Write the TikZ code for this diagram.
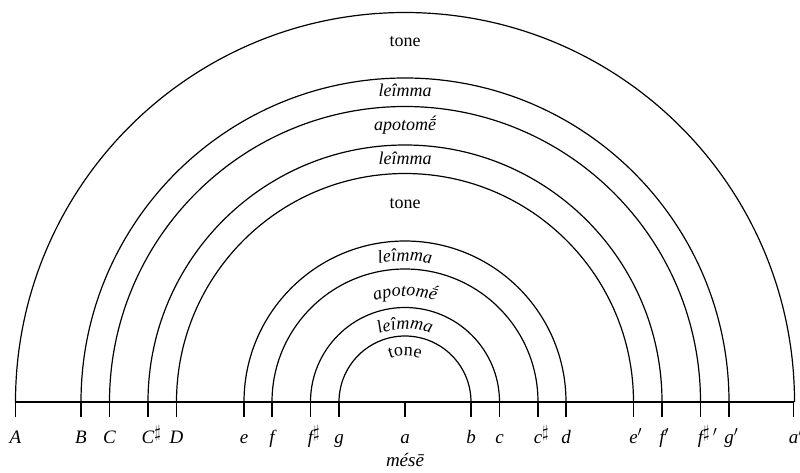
\documentclass[tikz,border=0pt]{standalone}
\usepackage{fontspec}
\setmainfont{Liberation Serif}
\usetikzlibrary{decorations.text}
\newcommand{\shp}{\rlap{\raisebox{0.3em}{\fontsize{17}{17}\selectfont$\sharp$}}}
\newcommand{\shpp}{\rlap{\raisebox{0.3em}{\fontsize{17}{17}\selectfont$\sharp$}\,$'$}}
\begin{document}
\begin{tikzpicture}[x=1pt,y=1pt,
  arcline/.style={line width=1.2pt},
  baseln/.style={line width=1.6pt},
  tickln/.style={line width=1.4pt},
  lab/.style={font=\fontsize{19}{22}\selectfont\itshape, anchor=base, inner sep=0pt},
  intv/.style={font=\fontsize{18}{21}\selectfont, anchor=base, inner sep=0pt},
  intvi/.style={font=\fontsize{18}{21}\selectfont\itshape, anchor=base, inner sep=0pt}]
\useasboundingbox (0,-70) rectangle (800,402);
\def\cx{405}
% tick coordinates
\foreach \n/\r in {A/389.5,B/324,C/295.5,Cs/257,D/228.5,e/161,f/133,fs/94.5,g/66}{
  \coordinate (\n) at (\cx-\r,0);
}
\foreach \n/\r in {ap/388.5,gp/324,fsp/295.5,fp/257,ep/228.5,d/161,cs/133,c/94.5,b/66}{
  \coordinate (\n) at (\cx+\r,0);
}
\coordinate (a) at (\cx,0);
% baseline
\draw[baseln] (A) -- (ap);
% ticks
\foreach \n in {A,B,C,Cs,D,e,f,fs,g,a,b,c,cs,d,ep,fp,fsp,gp,ap}{
  \draw[tickln] (\n) -- ++(0,-15);
}
% arcs
\foreach \n/\r in {A/389.5,B/324,C/295.5,Cs/257,D/228.5,e/161,f/133,fs/94.5,g/66}{
  \draw[arcline] (\n) arc[start angle=180,end angle=0,radius=\r];
}
% tick labels
\foreach \n/\t in {A/A,B/B,C/C,Cs/C\shp,D/D,e/e,f/f,fs/f\shp,g/g,a/a,b/b,c/c,cs/c\shp,d/d,ep/e\rlap{$'$},fp/f\rlap{$'$},fsp/f\shpp,gp/g\rlap{$'$},ap/a\rlap{$'$}}{
  \node[lab] (l\n) at ([yshift=-41]\n) {\t};
}
\node[lab] (mese) at (\cx,-64) {mésē};
% outer interval labels
\node[intv] (t1) at (\cx,355) {tone};
\node[intvi] (l1) at (\cx,305.5) {leîmma};
\node[intvi] (ap1) at (\cx,271) {apotomḗ};
\node[intvi] (l2) at (\cx,237) {leîmma};
\node[intv] (t2) at (\cx,194) {tone};
% inner interval labels along arcs
\path[decorate,decoration={text along path,text align=center,
  text={|\fontsize{18}{21}\selectfont\itshape|leîmma}}]
  (\cx-141,0) arc[start angle=180,end angle=0,radius=141];
\path[decorate,decoration={text along path,text align=center,
  text={|\fontsize{18}{21}\selectfont\itshape|apotomḗ}}]
  (\cx-106,0) arc[start angle=180,end angle=0,radius=106];
\path[decorate,decoration={text along path,text align=center,
  text={|\fontsize{18}{21}\selectfont\itshape|leîmma}}]
  (\cx-73,0) arc[start angle=180,end angle=0,radius=73];
\path[decorate,decoration={text along path,text align=center,
  text={|\fontsize{18}{21}\selectfont|tone}}]
  (\cx-46,0) arc[start angle=180,end angle=0,radius=46];
\end{tikzpicture}
\end{document}
